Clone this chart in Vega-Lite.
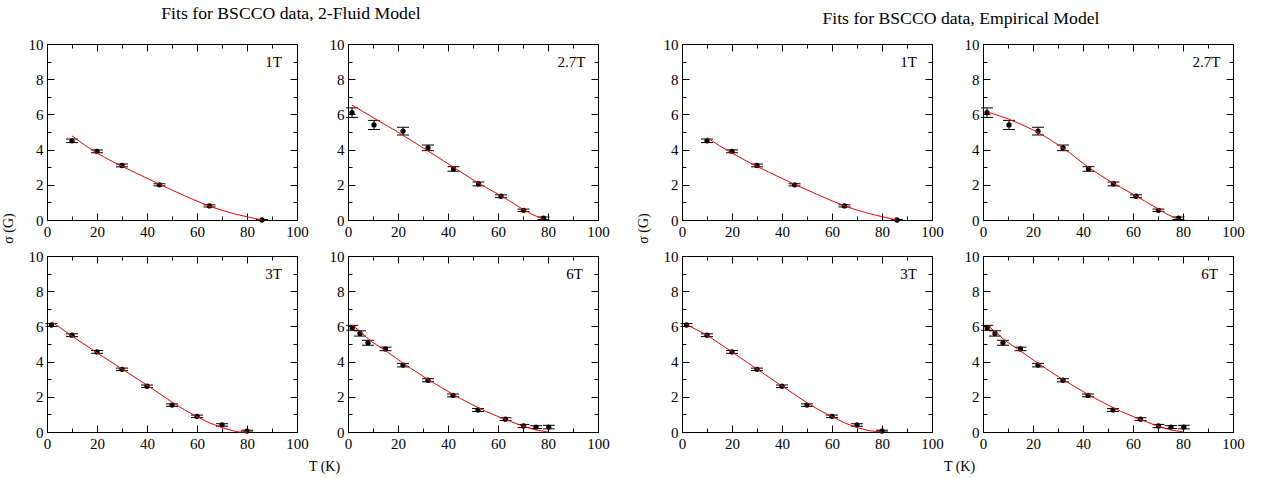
{
"$schema": "https://vega.github.io/schema/vega-lite/v6.json",
"padding": {"left": 0, "top": 4, "right": 0, "bottom": 0},
"background": "white",
"datasets": {
"pts": [
{"p":"1T","T":10,"s":4.5,"lo":4.4,"hi":4.6},
{"p":"1T","T":20,"s":3.9,"lo":3.82,"hi":3.98},
{"p":"1T","T":30,"s":3.1,"lo":3.02,"hi":3.18},
{"p":"1T","T":45,"s":2.0,"lo":1.94,"hi":2.06},
{"p":"1T","T":65,"s":0.8,"lo":0.74,"hi":0.86},
{"p":"1T","T":86,"s":0.0,"lo":0.0,"hi":0.03},
{"p":"2.7T","T":1.6,"s":6.1,"lo":5.83,"hi":6.37},
{"p":"2.7T","T":10.4,"s":5.4,"lo":5.14,"hi":5.66},
{"p":"2.7T","T":22,"s":5.05,"lo":4.83,"hi":5.27},
{"p":"2.7T","T":32,"s":4.1,"lo":3.94,"hi":4.26},
{"p":"2.7T","T":42.2,"s":2.9,"lo":2.77,"hi":3.03},
{"p":"2.7T","T":52.2,"s":2.05,"lo":1.94,"hi":2.16},
{"p":"2.7T","T":61.2,"s":1.35,"lo":1.27,"hi":1.43},
{"p":"2.7T","T":70.2,"s":0.55,"lo":0.48,"hi":0.62},
{"p":"2.7T","T":78.2,"s":0.1,"lo":0.03,"hi":0.17},
{"p":"3T","T":1.8,"s":6.08,"lo":6.0,"hi":6.16},
{"p":"3T","T":10,"s":5.5,"lo":5.42,"hi":5.58},
{"p":"3T","T":20,"s":4.55,"lo":4.47,"hi":4.63},
{"p":"3T","T":30,"s":3.56,"lo":3.49,"hi":3.63},
{"p":"3T","T":40,"s":2.6,"lo":2.53,"hi":2.67},
{"p":"3T","T":50,"s":1.53,"lo":1.46,"hi":1.6},
{"p":"3T","T":60,"s":0.89,"lo":0.82,"hi":0.96},
{"p":"3T","T":70,"s":0.4,"lo":0.33,"hi":0.47},
{"p":"3T","T":80,"s":0.05,"lo":0.0,"hi":0.1},
{"p":"6T","T":1.7,"s":5.92,"lo":5.78,"hi":6.06},
{"p":"6T","T":4.8,"s":5.6,"lo":5.45,"hi":5.75},
{"p":"6T","T":8,"s":5.07,"lo":4.93,"hi":5.21},
{"p":"6T","T":15,"s":4.72,"lo":4.62,"hi":4.82},
{"p":"6T","T":22,"s":3.8,"lo":3.7,"hi":3.9},
{"p":"6T","T":32,"s":2.94,"lo":2.85,"hi":3.03},
{"p":"6T","T":42,"s":2.08,"lo":2.0,"hi":2.16},
{"p":"6T","T":52,"s":1.25,"lo":1.17,"hi":1.33},
{"p":"6T","T":63,"s":0.73,"lo":0.65,"hi":0.81},
{"p":"6T","T":70.2,"s":0.34,"lo":0.25,"hi":0.43},
{"p":"6T","T":75.2,"s":0.28,"lo":0.2,"hi":0.36},
{"p":"6T","T":80.3,"s":0.28,"lo":0.18,"hi":0.38}
],
"fit": [
{"m":"F","p":"1T","T":10,"s":4.78},{"m":"F","p":"1T","T":15,"s":4.26},{"m":"F","p":"1T","T":20,"s":3.8},{"m":"F","p":"1T","T":25,"s":3.41},{"m":"F","p":"1T","T":30,"s":3.05},{"m":"F","p":"1T","T":35,"s":2.71},{"m":"F","p":"1T","T":40,"s":2.37},{"m":"F","p":"1T","T":45,"s":2.03},{"m":"F","p":"1T","T":50,"s":1.7},{"m":"F","p":"1T","T":55,"s":1.38},{"m":"F","p":"1T","T":60,"s":1.07},{"m":"F","p":"1T","T":65,"s":0.78},{"m":"F","p":"1T","T":70,"s":0.55},{"m":"F","p":"1T","T":75,"s":0.35},{"m":"F","p":"1T","T":80,"s":0.18},{"m":"F","p":"1T","T":86,"s":0.0},
{"m":"F","p":"2.7T","T":1.6,"s":6.53},{"m":"F","p":"2.7T","T":10,"s":5.82},{"m":"F","p":"2.7T","T":20,"s":4.99},{"m":"F","p":"2.7T","T":30,"s":4.1},{"m":"F","p":"2.7T","T":40,"s":3.2},{"m":"F","p":"2.7T","T":50,"s":2.28},{"m":"F","p":"2.7T","T":55,"s":1.86},{"m":"F","p":"2.7T","T":60,"s":1.47},{"m":"F","p":"2.7T","T":65,"s":1.05},{"m":"F","p":"2.7T","T":70,"s":0.6},{"m":"F","p":"2.7T","T":74,"s":0.3},{"m":"F","p":"2.7T","T":78,"s":0.05},
{"m":"F","p":"3T","T":2,"s":6.25},{"m":"F","p":"3T","T":10,"s":5.45},{"m":"F","p":"3T","T":20,"s":4.5},{"m":"F","p":"3T","T":30,"s":3.58},{"m":"F","p":"3T","T":40,"s":2.66},{"m":"F","p":"3T","T":50,"s":1.7},{"m":"F","p":"3T","T":55,"s":1.26},{"m":"F","p":"3T","T":60,"s":0.87},{"m":"F","p":"3T","T":65,"s":0.52},{"m":"F","p":"3T","T":70,"s":0.25},{"m":"F","p":"3T","T":74,"s":0.08},{"m":"F","p":"3T","T":77,"s":0.0},{"m":"F","p":"3T","T":80,"s":0.0},
{"m":"F","p":"6T","T":1.6,"s":6.08},{"m":"F","p":"6T","T":5,"s":5.7},{"m":"F","p":"6T","T":8,"s":5.3},{"m":"F","p":"6T","T":10,"s":5.08},{"m":"F","p":"6T","T":15,"s":4.62},{"m":"F","p":"6T","T":20,"s":4.12},{"m":"F","p":"6T","T":25,"s":3.63},{"m":"F","p":"6T","T":30,"s":3.17},{"m":"F","p":"6T","T":35,"s":2.73},{"m":"F","p":"6T","T":40,"s":2.3},{"m":"F","p":"6T","T":45,"s":1.9},{"m":"F","p":"6T","T":50,"s":1.53},{"m":"F","p":"6T","T":55,"s":1.18},{"m":"F","p":"6T","T":60,"s":0.88},{"m":"F","p":"6T","T":65,"s":0.6},{"m":"F","p":"6T","T":70,"s":0.33},{"m":"F","p":"6T","T":75,"s":0.12},{"m":"F","p":"6T","T":80,"s":0.0},
{"m":"E","p":"1T","T":10,"s":4.68},{"m":"E","p":"1T","T":15,"s":4.22},{"m":"E","p":"1T","T":20,"s":3.8},{"m":"E","p":"1T","T":25,"s":3.41},{"m":"E","p":"1T","T":30,"s":3.04},{"m":"E","p":"1T","T":35,"s":2.7},{"m":"E","p":"1T","T":40,"s":2.36},{"m":"E","p":"1T","T":45,"s":2.03},{"m":"E","p":"1T","T":50,"s":1.71},{"m":"E","p":"1T","T":55,"s":1.39},{"m":"E","p":"1T","T":60,"s":1.09},{"m":"E","p":"1T","T":65,"s":0.8},{"m":"E","p":"1T","T":70,"s":0.56},{"m":"E","p":"1T","T":75,"s":0.36},{"m":"E","p":"1T","T":80,"s":0.19},{"m":"E","p":"1T","T":86,"s":0.0},
{"m":"E","p":"2.7T","T":1.6,"s":6.15},{"m":"E","p":"2.7T","T":10,"s":5.75},{"m":"E","p":"2.7T","T":15,"s":5.45},{"m":"E","p":"2.7T","T":20,"s":5.12},{"m":"E","p":"2.7T","T":25,"s":4.73},{"m":"E","p":"2.7T","T":30,"s":4.27},{"m":"E","p":"2.7T","T":35,"s":3.78},{"m":"E","p":"2.7T","T":40,"s":3.22},{"m":"E","p":"2.7T","T":45,"s":2.72},{"m":"E","p":"2.7T","T":50,"s":2.27},{"m":"E","p":"2.7T","T":55,"s":1.86},{"m":"E","p":"2.7T","T":60,"s":1.46},{"m":"E","p":"2.7T","T":65,"s":1.05},{"m":"E","p":"2.7T","T":70,"s":0.63},{"m":"E","p":"2.7T","T":74,"s":0.3},{"m":"E","p":"2.7T","T":78,"s":0.05},
{"m":"E","p":"3T","T":1.6,"s":6.12},{"m":"E","p":"3T","T":10,"s":5.5},{"m":"E","p":"3T","T":20,"s":4.55},{"m":"E","p":"3T","T":30,"s":3.57},{"m":"E","p":"3T","T":40,"s":2.61},{"m":"E","p":"3T","T":50,"s":1.66},{"m":"E","p":"3T","T":55,"s":1.24},{"m":"E","p":"3T","T":60,"s":0.87},{"m":"E","p":"3T","T":65,"s":0.52},{"m":"E","p":"3T","T":70,"s":0.25},{"m":"E","p":"3T","T":75,"s":0.07},{"m":"E","p":"3T","T":80,"s":0.0},
{"m":"E","p":"6T","T":1.9,"s":6.06},{"m":"E","p":"6T","T":5,"s":5.68},{"m":"E","p":"6T","T":8,"s":5.3},{"m":"E","p":"6T","T":10,"s":5.08},{"m":"E","p":"6T","T":15,"s":4.6},{"m":"E","p":"6T","T":20,"s":4.1},{"m":"E","p":"6T","T":25,"s":3.62},{"m":"E","p":"6T","T":30,"s":3.15},{"m":"E","p":"6T","T":35,"s":2.72},{"m":"E","p":"6T","T":40,"s":2.3},{"m":"E","p":"6T","T":45,"s":1.9},{"m":"E","p":"6T","T":50,"s":1.53},{"m":"E","p":"6T","T":55,"s":1.18},{"m":"E","p":"6T","T":60,"s":0.88},{"m":"E","p":"6T","T":65,"s":0.6},{"m":"E","p":"6T","T":70,"s":0.33},{"m":"E","p":"6T","T":75,"s":0.12},{"m":"E","p":"6T","T":80,"s":0.0}
]
},
"hconcat": [
{
"concat": [
{
"width": 250, "height": 176,
"title": {"text": "Fits for BSCCO data, 2-Fluid Model", "anchor": "middle", "frame": "group", "dx": 119, "offset": 14},
"layer": [
{"data": {"name": "pts"}, "transform": [{"filter": "datum.p === '1T'"}], "mark": {"type": "rule", "color": "black", "strokeWidth": 1},
 "encoding": {"x": {"field": "T", "type": "quantitative", "scale": {"domain": [0, 100]}, "axis": {"orient": "bottom", "values": [0,20,40,60,80,100], "tickSize": -7, "labelPadding": 11, "title": null}},
  "y": {"field": "lo", "type": "quantitative", "scale": {"domain": [0, 10]}, "axis": {"orient": "left", "values": [0,2,4,6,8,10], "tickSize": -7, "labelPadding": 11, "title": "σ (G)", "titleX": -39, "titleY": 184, "titleAngle": -90, "titleAlign": "center", "titleBaseline": "middle"}},
  "y2": {"field": "hi"}}},
{"data": {"name": "pts"}, "transform": [{"filter": "datum.p === '1T'"}], "mark": {"type": "tick", "orient": "horizontal", "size": 12, "thickness": 1, "color": "black", "opacity": 1},
 "encoding": {"x": {"field": "T", "type": "quantitative", "axis": {"orient": "top", "values": [0,20,40,60,80,100], "tickSize": -7, "labels": false, "title": null}},
  "y": {"field": "lo", "type": "quantitative", "axis": {"orient": "right", "values": [0,2,4,6,8,10], "tickSize": -7, "labels": false, "title": null}}}},
{"data": {"name": "pts"}, "transform": [{"filter": "datum.p === '1T'"}], "mark": {"type": "tick", "orient": "horizontal", "size": 12, "thickness": 1, "color": "black", "opacity": 1},
 "encoding": {"x": {"field": "T", "type": "quantitative", "axis": {"orient": "bottom", "values": [10,30,50,70,90], "tickSize": -4, "labels": false, "title": null}},
  "y": {"field": "hi", "type": "quantitative", "axis": {"orient": "left", "values": [1,3,5,7,9], "tickSize": -4, "labels": false, "title": null}}}},
{"data": {"name": "pts"}, "transform": [{"filter": "datum.p === '1T'"}], "mark": {"type": "point", "filled": true, "size": 28, "color": "black", "opacity": 1},
 "encoding": {"x": {"field": "T", "type": "quantitative", "axis": {"orient": "top", "values": [10,30,50,70,90], "tickSize": -4, "labels": false, "title": null}},
  "y": {"field": "s", "type": "quantitative", "axis": {"orient": "right", "values": [1,3,5,7,9], "tickSize": -4, "labels": false, "title": null}}}},
{"data": {"name": "fit"}, "transform": [{"filter": "datum.m === 'F' && datum.p === '1T'"}], "mark": {"type": "line", "color": "#ff0000", "strokeWidth": 1},
 "encoding": {"x": {"field": "T", "type": "quantitative", "axis": null}, "y": {"field": "s", "type": "quantitative", "axis": null}}},
{"data": {"values": [{"label": "1T"}]}, "mark": {"type": "text", "align": "right", "baseline": "middle", "fontSize": 15, "font": "Liberation Serif", "color": "black"},
 "encoding": {"text": {"field": "label"}, "x": {"datum": 94, "type": "quantitative", "axis": null}, "y": {"datum": 9, "type": "quantitative", "axis": null}}}
],
"resolve": {"axis": {"x": "independent", "y": "independent"}}
},
{
"width": 250, "height": 176,
"layer": [
{"data": {"name": "pts"}, "transform": [{"filter": "datum.p === '2.7T'"}], "mark": {"type": "rule", "color": "black", "strokeWidth": 1},
 "encoding": {"x": {"field": "T", "type": "quantitative", "scale": {"domain": [0, 100]}, "axis": {"orient": "bottom", "values": [0,20,40,60,80,100], "tickSize": -7, "labelPadding": 11, "title": null}},
  "y": {"field": "lo", "type": "quantitative", "scale": {"domain": [0, 10]}, "axis": {"orient": "left", "values": [0,2,4,6,8,10], "tickSize": -7, "labelPadding": 11, "title": null}},
  "y2": {"field": "hi"}}},
{"data": {"name": "pts"}, "transform": [{"filter": "datum.p === '2.7T'"}], "mark": {"type": "tick", "orient": "horizontal", "size": 12, "thickness": 1, "color": "black", "opacity": 1},
 "encoding": {"x": {"field": "T", "type": "quantitative", "axis": {"orient": "top", "values": [0,20,40,60,80,100], "tickSize": -7, "labels": false, "title": null}},
  "y": {"field": "lo", "type": "quantitative", "axis": {"orient": "right", "values": [0,2,4,6,8,10], "tickSize": -7, "labels": false, "title": null}}}},
{"data": {"name": "pts"}, "transform": [{"filter": "datum.p === '2.7T'"}], "mark": {"type": "tick", "orient": "horizontal", "size": 12, "thickness": 1, "color": "black", "opacity": 1},
 "encoding": {"x": {"field": "T", "type": "quantitative", "axis": {"orient": "bottom", "values": [10,30,50,70,90], "tickSize": -4, "labels": false, "title": null}},
  "y": {"field": "hi", "type": "quantitative", "axis": {"orient": "left", "values": [1,3,5,7,9], "tickSize": -4, "labels": false, "title": null}}}},
{"data": {"name": "pts"}, "transform": [{"filter": "datum.p === '2.7T'"}], "mark": {"type": "point", "filled": true, "size": 28, "color": "black", "opacity": 1},
 "encoding": {"x": {"field": "T", "type": "quantitative", "axis": {"orient": "top", "values": [10,30,50,70,90], "tickSize": -4, "labels": false, "title": null}},
  "y": {"field": "s", "type": "quantitative", "axis": {"orient": "right", "values": [1,3,5,7,9], "tickSize": -4, "labels": false, "title": null}}}},
{"data": {"name": "fit"}, "transform": [{"filter": "datum.m === 'F' && datum.p === '2.7T'"}], "mark": {"type": "line", "color": "#ff0000", "strokeWidth": 1},
 "encoding": {"x": {"field": "T", "type": "quantitative", "axis": null}, "y": {"field": "s", "type": "quantitative", "axis": null}}},
{"data": {"values": [{"label": "2.7T"}]}, "mark": {"type": "text", "align": "right", "baseline": "middle", "fontSize": 15, "font": "Liberation Serif", "color": "black"},
 "encoding": {"text": {"field": "label"}, "x": {"datum": 95, "type": "quantitative", "axis": null}, "y": {"datum": 9, "type": "quantitative", "axis": null}}}
],
"resolve": {"axis": {"x": "independent", "y": "independent"}}
},
{
"width": 250, "height": 176,
"layer": [
{"data": {"name": "pts"}, "transform": [{"filter": "datum.p === '3T'"}], "mark": {"type": "rule", "color": "black", "strokeWidth": 1},
 "encoding": {"x": {"field": "T", "type": "quantitative", "scale": {"domain": [0, 100]}, "axis": {"orient": "bottom", "values": [0,20,40,60,80,100], "tickSize": -7, "labelPadding": 11, "title": "T (K)", "titleX": 277, "titleY": 34, "titleAlign": "center", "titleBaseline": "middle"}},
  "y": {"field": "lo", "type": "quantitative", "scale": {"domain": [0, 10]}, "axis": {"orient": "left", "values": [0,2,4,6,8,10], "tickSize": -7, "labelPadding": 11, "title": null}},
  "y2": {"field": "hi"}}},
{"data": {"name": "pts"}, "transform": [{"filter": "datum.p === '3T'"}], "mark": {"type": "tick", "orient": "horizontal", "size": 12, "thickness": 1, "color": "black", "opacity": 1},
 "encoding": {"x": {"field": "T", "type": "quantitative", "axis": {"orient": "top", "values": [0,20,40,60,80,100], "tickSize": -7, "labels": false, "title": null}},
  "y": {"field": "lo", "type": "quantitative", "axis": {"orient": "right", "values": [0,2,4,6,8,10], "tickSize": -7, "labels": false, "title": null}}}},
{"data": {"name": "pts"}, "transform": [{"filter": "datum.p === '3T'"}], "mark": {"type": "tick", "orient": "horizontal", "size": 12, "thickness": 1, "color": "black", "opacity": 1},
 "encoding": {"x": {"field": "T", "type": "quantitative", "axis": {"orient": "bottom", "values": [10,30,50,70,90], "tickSize": -4, "labels": false, "title": null}},
  "y": {"field": "hi", "type": "quantitative", "axis": {"orient": "left", "values": [1,3,5,7,9], "tickSize": -4, "labels": false, "title": null}}}},
{"data": {"name": "pts"}, "transform": [{"filter": "datum.p === '3T'"}], "mark": {"type": "point", "filled": true, "size": 28, "color": "black", "opacity": 1},
 "encoding": {"x": {"field": "T", "type": "quantitative", "axis": {"orient": "top", "values": [10,30,50,70,90], "tickSize": -4, "labels": false, "title": null}},
  "y": {"field": "s", "type": "quantitative", "axis": {"orient": "right", "values": [1,3,5,7,9], "tickSize": -4, "labels": false, "title": null}}}},
{"data": {"name": "fit"}, "transform": [{"filter": "datum.m === 'F' && datum.p === '3T'"}], "mark": {"type": "line", "color": "#ff0000", "strokeWidth": 1},
 "encoding": {"x": {"field": "T", "type": "quantitative", "axis": null}, "y": {"field": "s", "type": "quantitative", "axis": null}}},
{"data": {"values": [{"label": "3T"}]}, "mark": {"type": "text", "align": "right", "baseline": "middle", "fontSize": 15, "font": "Liberation Serif", "color": "black"},
 "encoding": {"text": {"field": "label"}, "x": {"datum": 94, "type": "quantitative", "axis": null}, "y": {"datum": 9, "type": "quantitative", "axis": null}}}
],
"resolve": {"axis": {"x": "independent", "y": "independent"}}
},
{
"width": 250, "height": 176,
"layer": [
{"data": {"name": "pts"}, "transform": [{"filter": "datum.p === '6T'"}], "mark": {"type": "rule", "color": "black", "strokeWidth": 1},
 "encoding": {"x": {"field": "T", "type": "quantitative", "scale": {"domain": [0, 100]}, "axis": {"orient": "bottom", "values": [0,20,40,60,80,100], "tickSize": -7, "labelPadding": 11, "title": null}},
  "y": {"field": "lo", "type": "quantitative", "scale": {"domain": [0, 10]}, "axis": {"orient": "left", "values": [0,2,4,6,8,10], "tickSize": -7, "labelPadding": 11, "title": null}},
  "y2": {"field": "hi"}}},
{"data": {"name": "pts"}, "transform": [{"filter": "datum.p === '6T'"}], "mark": {"type": "tick", "orient": "horizontal", "size": 12, "thickness": 1, "color": "black", "opacity": 1},
 "encoding": {"x": {"field": "T", "type": "quantitative", "axis": {"orient": "top", "values": [0,20,40,60,80,100], "tickSize": -7, "labels": false, "title": null}},
  "y": {"field": "lo", "type": "quantitative", "axis": {"orient": "right", "values": [0,2,4,6,8,10], "tickSize": -7, "labels": false, "title": null}}}},
{"data": {"name": "pts"}, "transform": [{"filter": "datum.p === '6T'"}], "mark": {"type": "tick", "orient": "horizontal", "size": 12, "thickness": 1, "color": "black", "opacity": 1},
 "encoding": {"x": {"field": "T", "type": "quantitative", "axis": {"orient": "bottom", "values": [10,30,50,70,90], "tickSize": -4, "labels": false, "title": null}},
  "y": {"field": "hi", "type": "quantitative", "axis": {"orient": "left", "values": [1,3,5,7,9], "tickSize": -4, "labels": false, "title": null}}}},
{"data": {"name": "pts"}, "transform": [{"filter": "datum.p === '6T'"}], "mark": {"type": "point", "filled": true, "size": 28, "color": "black", "opacity": 1},
 "encoding": {"x": {"field": "T", "type": "quantitative", "axis": {"orient": "top", "values": [10,30,50,70,90], "tickSize": -4, "labels": false, "title": null}},
  "y": {"field": "s", "type": "quantitative", "axis": {"orient": "right", "values": [1,3,5,7,9], "tickSize": -4, "labels": false, "title": null}}}},
{"data": {"name": "fit"}, "transform": [{"filter": "datum.m === 'F' && datum.p === '6T'"}], "mark": {"type": "line", "color": "#ff0000", "strokeWidth": 1},
 "encoding": {"x": {"field": "T", "type": "quantitative", "axis": null}, "y": {"field": "s", "type": "quantitative", "axis": null}}},
{"data": {"values": [{"label": "6T"}]}, "mark": {"type": "text", "align": "right", "baseline": "middle", "fontSize": 15, "font": "Liberation Serif", "color": "black"},
 "encoding": {"text": {"field": "label"}, "x": {"datum": 94, "type": "quantitative", "axis": null}, "y": {"datum": 9, "type": "quantitative", "axis": null}}}
],
"resolve": {"axis": {"x": "independent", "y": "independent"}}
}
],
"columns": 2, "spacing": {"row": 36, "column": 51}, "bounds": "flush"
},
{
"concat": [
{
"width": 250, "height": 176,
"title": {"text": "Fits for BSCCO data, Empirical Model", "anchor": "middle", "frame": "group", "dx": 154, "offset": 9},
"layer": [
{"data": {"name": "pts"}, "transform": [{"filter": "datum.p === '1T'"}], "mark": {"type": "rule", "color": "black", "strokeWidth": 1},
 "encoding": {"x": {"field": "T", "type": "quantitative", "scale": {"domain": [0, 100]}, "axis": {"orient": "bottom", "values": [0,20,40,60,80,100], "tickSize": -7, "labelPadding": 11, "title": null}},
  "y": {"field": "lo", "type": "quantitative", "scale": {"domain": [0, 10]}, "axis": {"orient": "left", "values": [0,2,4,6,8,10], "tickSize": -7, "labelPadding": 11, "title": "σ (G)", "titleX": -39, "titleY": 184, "titleAngle": -90, "titleAlign": "center", "titleBaseline": "middle"}},
  "y2": {"field": "hi"}}},
{"data": {"name": "pts"}, "transform": [{"filter": "datum.p === '1T'"}], "mark": {"type": "tick", "orient": "horizontal", "size": 12, "thickness": 1, "color": "black", "opacity": 1},
 "encoding": {"x": {"field": "T", "type": "quantitative", "axis": {"orient": "top", "values": [0,20,40,60,80,100], "tickSize": -7, "labels": false, "title": null}},
  "y": {"field": "lo", "type": "quantitative", "axis": {"orient": "right", "values": [0,2,4,6,8,10], "tickSize": -7, "labels": false, "title": null}}}},
{"data": {"name": "pts"}, "transform": [{"filter": "datum.p === '1T'"}], "mark": {"type": "tick", "orient": "horizontal", "size": 12, "thickness": 1, "color": "black", "opacity": 1},
 "encoding": {"x": {"field": "T", "type": "quantitative", "axis": {"orient": "bottom", "values": [10,30,50,70,90], "tickSize": -4, "labels": false, "title": null}},
  "y": {"field": "hi", "type": "quantitative", "axis": {"orient": "left", "values": [1,3,5,7,9], "tickSize": -4, "labels": false, "title": null}}}},
{"data": {"name": "pts"}, "transform": [{"filter": "datum.p === '1T'"}], "mark": {"type": "point", "filled": true, "size": 28, "color": "black", "opacity": 1},
 "encoding": {"x": {"field": "T", "type": "quantitative", "axis": {"orient": "top", "values": [10,30,50,70,90], "tickSize": -4, "labels": false, "title": null}},
  "y": {"field": "s", "type": "quantitative", "axis": {"orient": "right", "values": [1,3,5,7,9], "tickSize": -4, "labels": false, "title": null}}}},
{"data": {"name": "fit"}, "transform": [{"filter": "datum.m === 'E' && datum.p === '1T'"}], "mark": {"type": "line", "color": "#ff0000", "strokeWidth": 1},
 "encoding": {"x": {"field": "T", "type": "quantitative", "axis": null}, "y": {"field": "s", "type": "quantitative", "axis": null}}},
{"data": {"values": [{"label": "1T"}]}, "mark": {"type": "text", "align": "right", "baseline": "middle", "fontSize": 15, "font": "Liberation Serif", "color": "black"},
 "encoding": {"text": {"field": "label"}, "x": {"datum": 94, "type": "quantitative", "axis": null}, "y": {"datum": 9, "type": "quantitative", "axis": null}}}
],
"resolve": {"axis": {"x": "independent", "y": "independent"}}
},
{
"width": 250, "height": 176,
"layer": [
{"data": {"name": "pts"}, "transform": [{"filter": "datum.p === '2.7T'"}], "mark": {"type": "rule", "color": "black", "strokeWidth": 1},
 "encoding": {"x": {"field": "T", "type": "quantitative", "scale": {"domain": [0, 100]}, "axis": {"orient": "bottom", "values": [0,20,40,60,80,100], "tickSize": -7, "labelPadding": 11, "title": null}},
  "y": {"field": "lo", "type": "quantitative", "scale": {"domain": [0, 10]}, "axis": {"orient": "left", "values": [0,2,4,6,8,10], "tickSize": -7, "labelPadding": 11, "title": null}},
  "y2": {"field": "hi"}}},
{"data": {"name": "pts"}, "transform": [{"filter": "datum.p === '2.7T'"}], "mark": {"type": "tick", "orient": "horizontal", "size": 12, "thickness": 1, "color": "black", "opacity": 1},
 "encoding": {"x": {"field": "T", "type": "quantitative", "axis": {"orient": "top", "values": [0,20,40,60,80,100], "tickSize": -7, "labels": false, "title": null}},
  "y": {"field": "lo", "type": "quantitative", "axis": {"orient": "right", "values": [0,2,4,6,8,10], "tickSize": -7, "labels": false, "title": null}}}},
{"data": {"name": "pts"}, "transform": [{"filter": "datum.p === '2.7T'"}], "mark": {"type": "tick", "orient": "horizontal", "size": 12, "thickness": 1, "color": "black", "opacity": 1},
 "encoding": {"x": {"field": "T", "type": "quantitative", "axis": {"orient": "bottom", "values": [10,30,50,70,90], "tickSize": -4, "labels": false, "title": null}},
  "y": {"field": "hi", "type": "quantitative", "axis": {"orient": "left", "values": [1,3,5,7,9], "tickSize": -4, "labels": false, "title": null}}}},
{"data": {"name": "pts"}, "transform": [{"filter": "datum.p === '2.7T'"}], "mark": {"type": "point", "filled": true, "size": 28, "color": "black", "opacity": 1},
 "encoding": {"x": {"field": "T", "type": "quantitative", "axis": {"orient": "top", "values": [10,30,50,70,90], "tickSize": -4, "labels": false, "title": null}},
  "y": {"field": "s", "type": "quantitative", "axis": {"orient": "right", "values": [1,3,5,7,9], "tickSize": -4, "labels": false, "title": null}}}},
{"data": {"name": "fit"}, "transform": [{"filter": "datum.m === 'E' && datum.p === '2.7T'"}], "mark": {"type": "line", "color": "#ff0000", "strokeWidth": 1},
 "encoding": {"x": {"field": "T", "type": "quantitative", "axis": null}, "y": {"field": "s", "type": "quantitative", "axis": null}}},
{"data": {"values": [{"label": "2.7T"}]}, "mark": {"type": "text", "align": "right", "baseline": "middle", "fontSize": 15, "font": "Liberation Serif", "color": "black"},
 "encoding": {"text": {"field": "label"}, "x": {"datum": 95, "type": "quantitative", "axis": null}, "y": {"datum": 9, "type": "quantitative", "axis": null}}}
],
"resolve": {"axis": {"x": "independent", "y": "independent"}}
},
{
"width": 250, "height": 176,
"layer": [
{"data": {"name": "pts"}, "transform": [{"filter": "datum.p === '3T'"}], "mark": {"type": "rule", "color": "black", "strokeWidth": 1},
 "encoding": {"x": {"field": "T", "type": "quantitative", "scale": {"domain": [0, 100]}, "axis": {"orient": "bottom", "values": [0,20,40,60,80,100], "tickSize": -7, "labelPadding": 11, "title": "T (K)", "titleX": 277, "titleY": 34, "titleAlign": "center", "titleBaseline": "middle"}},
  "y": {"field": "lo", "type": "quantitative", "scale": {"domain": [0, 10]}, "axis": {"orient": "left", "values": [0,2,4,6,8,10], "tickSize": -7, "labelPadding": 11, "title": null}},
  "y2": {"field": "hi"}}},
{"data": {"name": "pts"}, "transform": [{"filter": "datum.p === '3T'"}], "mark": {"type": "tick", "orient": "horizontal", "size": 12, "thickness": 1, "color": "black", "opacity": 1},
 "encoding": {"x": {"field": "T", "type": "quantitative", "axis": {"orient": "top", "values": [0,20,40,60,80,100], "tickSize": -7, "labels": false, "title": null}},
  "y": {"field": "lo", "type": "quantitative", "axis": {"orient": "right", "values": [0,2,4,6,8,10], "tickSize": -7, "labels": false, "title": null}}}},
{"data": {"name": "pts"}, "transform": [{"filter": "datum.p === '3T'"}], "mark": {"type": "tick", "orient": "horizontal", "size": 12, "thickness": 1, "color": "black", "opacity": 1},
 "encoding": {"x": {"field": "T", "type": "quantitative", "axis": {"orient": "bottom", "values": [10,30,50,70,90], "tickSize": -4, "labels": false, "title": null}},
  "y": {"field": "hi", "type": "quantitative", "axis": {"orient": "left", "values": [1,3,5,7,9], "tickSize": -4, "labels": false, "title": null}}}},
{"data": {"name": "pts"}, "transform": [{"filter": "datum.p === '3T'"}], "mark": {"type": "point", "filled": true, "size": 28, "color": "black", "opacity": 1},
 "encoding": {"x": {"field": "T", "type": "quantitative", "axis": {"orient": "top", "values": [10,30,50,70,90], "tickSize": -4, "labels": false, "title": null}},
  "y": {"field": "s", "type": "quantitative", "axis": {"orient": "right", "values": [1,3,5,7,9], "tickSize": -4, "labels": false, "title": null}}}},
{"data": {"name": "fit"}, "transform": [{"filter": "datum.m === 'E' && datum.p === '3T'"}], "mark": {"type": "line", "color": "#ff0000", "strokeWidth": 1},
 "encoding": {"x": {"field": "T", "type": "quantitative", "axis": null}, "y": {"field": "s", "type": "quantitative", "axis": null}}},
{"data": {"values": [{"label": "3T"}]}, "mark": {"type": "text", "align": "right", "baseline": "middle", "fontSize": 15, "font": "Liberation Serif", "color": "black"},
 "encoding": {"text": {"field": "label"}, "x": {"datum": 94, "type": "quantitative", "axis": null}, "y": {"datum": 9, "type": "quantitative", "axis": null}}}
],
"resolve": {"axis": {"x": "independent", "y": "independent"}}
},
{
"width": 250, "height": 176,
"layer": [
{"data": {"name": "pts"}, "transform": [{"filter": "datum.p === '6T'"}], "mark": {"type": "rule", "color": "black", "strokeWidth": 1},
 "encoding": {"x": {"field": "T", "type": "quantitative", "scale": {"domain": [0, 100]}, "axis": {"orient": "bottom", "values": [0,20,40,60,80,100], "tickSize": -7, "labelPadding": 11, "title": null}},
  "y": {"field": "lo", "type": "quantitative", "scale": {"domain": [0, 10]}, "axis": {"orient": "left", "values": [0,2,4,6,8,10], "tickSize": -7, "labelPadding": 11, "title": null}},
  "y2": {"field": "hi"}}},
{"data": {"name": "pts"}, "transform": [{"filter": "datum.p === '6T'"}], "mark": {"type": "tick", "orient": "horizontal", "size": 12, "thickness": 1, "color": "black", "opacity": 1},
 "encoding": {"x": {"field": "T", "type": "quantitative", "axis": {"orient": "top", "values": [0,20,40,60,80,100], "tickSize": -7, "labels": false, "title": null}},
  "y": {"field": "lo", "type": "quantitative", "axis": {"orient": "right", "values": [0,2,4,6,8,10], "tickSize": -7, "labels": false, "title": null}}}},
{"data": {"name": "pts"}, "transform": [{"filter": "datum.p === '6T'"}], "mark": {"type": "tick", "orient": "horizontal", "size": 12, "thickness": 1, "color": "black", "opacity": 1},
 "encoding": {"x": {"field": "T", "type": "quantitative", "axis": {"orient": "bottom", "values": [10,30,50,70,90], "tickSize": -4, "labels": false, "title": null}},
  "y": {"field": "hi", "type": "quantitative", "axis": {"orient": "left", "values": [1,3,5,7,9], "tickSize": -4, "labels": false, "title": null}}}},
{"data": {"name": "pts"}, "transform": [{"filter": "datum.p === '6T'"}], "mark": {"type": "point", "filled": true, "size": 28, "color": "black", "opacity": 1},
 "encoding": {"x": {"field": "T", "type": "quantitative", "axis": {"orient": "top", "values": [10,30,50,70,90], "tickSize": -4, "labels": false, "title": null}},
  "y": {"field": "s", "type": "quantitative", "axis": {"orient": "right", "values": [1,3,5,7,9], "tickSize": -4, "labels": false, "title": null}}}},
{"data": {"name": "fit"}, "transform": [{"filter": "datum.m === 'E' && datum.p === '6T'"}], "mark": {"type": "line", "color": "#ff0000", "strokeWidth": 1},
 "encoding": {"x": {"field": "T", "type": "quantitative", "axis": null}, "y": {"field": "s", "type": "quantitative", "axis": null}}},
{"data": {"values": [{"label": "6T"}]}, "mark": {"type": "text", "align": "right", "baseline": "middle", "fontSize": 15, "font": "Liberation Serif", "color": "black"},
 "encoding": {"text": {"field": "label"}, "x": {"datum": 94, "type": "quantitative", "axis": null}, "y": {"datum": 9, "type": "quantitative", "axis": null}}}
],
"resolve": {"axis": {"x": "independent", "y": "independent"}}
}
],
"columns": 2, "spacing": {"row": 36, "column": 51}, "bounds": "flush"
}
],
"spacing": 635, "bounds": "flush",
"config": {
"font": "Liberation Serif",
"view": {"stroke": "black", "strokeWidth": 1},
"axis": {"domainColor": "black", "domainWidth": 1, "tickColor": "black", "tickWidth": 1, "labelColor": "black", "labelFont": "Liberation Serif", "labelFontSize": 15, "titleFont": "Liberation Serif", "titleFontSize": 14, "titleFontWeight": "normal", "titleColor": "black", "grid": false, "labelFlush": false, "labelOverlap": false},
"title": {"font": "Liberation Serif", "fontSize": 17.7, "fontWeight": "normal", "color": "black"},
"text": {"font": "Liberation Serif"}
}
}
